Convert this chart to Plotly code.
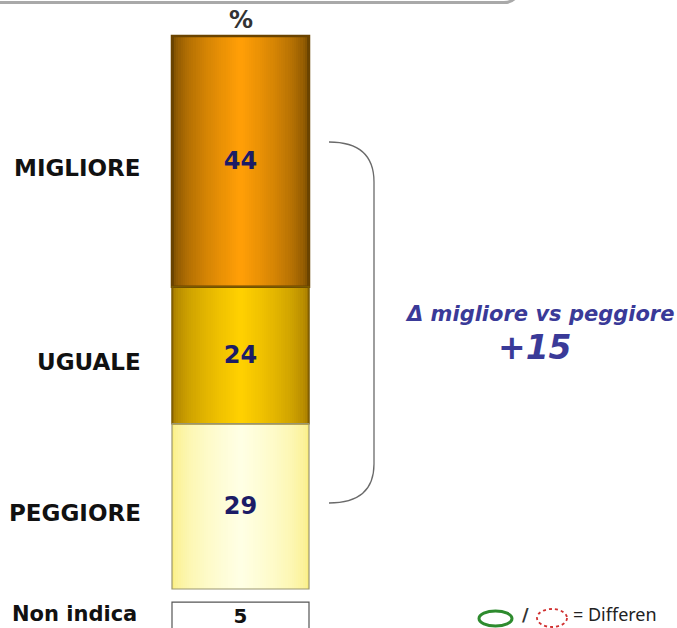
import plotly.graph_objects as go

# ---------------- data ----------------
categories = ["MIGLIORE", "UGUALE", "PEGGIORE"]
values = [44, 24, 29]
non_indica_label = "Non indica"
non_indica_value = 5
delta_label = "\u0394 migliore vs peggiore"
delta_value = values[0] - values[2]   # +15
unit_label = "%"
legend_text = "= Differen"

# ---------------- geometry ----------------
W, H = 677, 628
BAR_X, BAR_W = 240.5, 137
PX_BOTTOM, PX_TOP = 589, 36
TOTAL = sum(values)
SCALE = (PX_BOTTOM - PX_TOP) / TOTAL
Y_TOP = PX_BOTTOM / SCALE
Y_BOT = -(H - PX_BOTTOM) / SCALE
NI_GAP = 2.3

# bases (stack from bottom: PEGGIORE, UGUALE, MIGLIORE)
bases = []
acc = 0
for v in reversed(values):
    bases.append(acc)
    acc += v
bases = list(reversed(bases))

edge_cols = [(108, 68, 0), (158, 116, 0), (250, 238, 128)]
mid_cols = [(255, 158, 6), (255, 208, 0), (255, 255, 228)]
outline_cols = ["#6a4300", "#7a5a00", "#9a9670"]
outline_w = [2.5, 1.5, 1.2]


def mix(a, b, t):
    return "rgb(%d,%d,%d)" % tuple(round(a[i] + (b[i] - a[i]) * t) for i in range(3))


fig = go.Figure()
N = 32
for k in range(N):
    t = (k / (N - 1)) ** 0.5
    fig.add_trace(go.Bar(
        x=[BAR_X] * len(values), y=values, base=bases,
        width=BAR_W * (1 - k / N),
        marker=dict(color=[mix(edge_cols[i], mid_cols[i], t) for i in range(len(values))],
                    line=dict(width=0)),
        hoverinfo="skip", showlegend=False,
    ))

# outline + value labels
fig.add_trace(go.Bar(
    x=[BAR_X] * len(values), y=values, base=bases, width=BAR_W,
    marker=dict(color="rgba(0,0,0,0)", line=dict(color=outline_cols, width=outline_w)),
    text=[str(v) for v in values], texttemplate="<b>%{text}</b>",
    textposition="inside", insidetextanchor="middle",
    textangle=0, textfont=dict(family="DejaVu Sans", size=24, color="#1c1c66"),
    hoverinfo="skip", showlegend=False,
))

# Non indica box
fig.add_trace(go.Bar(
    x=[BAR_X], y=[non_indica_value], base=[-NI_GAP - non_indica_value], width=BAR_W,
    marker=dict(color="white", line=dict(color="#555555", width=1.2)),
    text=[str(non_indica_value)], texttemplate="<b>%{text}</b>",
    textposition="inside", insidetextanchor="middle",
    textangle=0, textfont=dict(family="DejaVu Sans", size=23, color="#111111"),
    hoverinfo="skip", showlegend=False,
))

# category labels
for c, v, b in zip(categories, values, bases):
    fig.add_annotation(x=143, y=b + v / 2 - 1.1, xref="x", yref="y", text="<b>%s</b>" % c,
                       showarrow=False, xanchor="right", yanchor="middle",
                       font=dict(family="DejaVu Sans", size=23, color="#111111"))
fig.add_annotation(x=139, y=-NI_GAP - non_indica_value / 2 + 0.5, xref="x", yref="y",
                   text="<b>%s</b>" % non_indica_label, showarrow=False,
                   xanchor="right", yanchor="middle",
                   font=dict(family="DejaVu Sans", size=21, color="#111111"))

# unit label
fig.add_annotation(x=BAR_X, y=20, xref="x2", yref="y2", text="<b>%s</b>" % unit_label,
                   showarrow=False, font=dict(family="DejaVu Sans", size=24, color="#333333"))

# delta text
fig.add_annotation(x=539, y=314, xref="x2", yref="y2", text="<b><i>%s</i></b>" % delta_label,
                   showarrow=False, font=dict(family="DejaVu Sans", size=21, color="#3a3a98"))
fig.add_annotation(x=535, y=347, xref="x2", yref="y2", text="<b><i>%+d</i></b>" % delta_value,
                   showarrow=False, font=dict(family="DejaVu Sans", size=33, color="#3a3a98"))

# brace
fig.add_shape(type="path", xref="x2", yref="y2",
              path="M 329,142 Q 374,142 374,182 L 374,464 Q 374,503 329,503",
              line=dict(color="#6a6a6a", width=1.3))

# top frame line
fig.add_shape(type="path", xref="x2", yref="y2",
              path="M 0,2.5 L 504,2.5 Q 512,2.5 516,-3",
              line=dict(color="#a9a9a9", width=3))

# legend symbols
fig.add_shape(type="circle", xref="x2", yref="y2", x0=479, x1=512, y0=611, y1=626,
              line=dict(color="#2e8b2e", width=3))
fig.add_shape(type="circle", xref="x2", yref="y2", x0=537, x1=567, y0=609, y1=627,
              line=dict(color="#d03030", width=1.8, dash="dot"))
fig.add_annotation(x=525, y=614, xref="x2", yref="y2", text="<b>/</b>", showarrow=False,
                   borderpad=0, font=dict(family="DejaVu Sans", size=18, color="#333333"))
fig.add_annotation(x=572, y=614, xref="x2", yref="y2", text=legend_text, showarrow=False,
                   xanchor="left", borderpad=0,
                   font=dict(family="Noto Sans", size=18, color="#222222"))

fig.update_layout(
    width=W, height=H, margin=dict(l=0, r=0, t=0, b=0),
    paper_bgcolor="white", plot_bgcolor="white",
    barmode="overlay", bargap=0,
    xaxis=dict(range=[0, W], visible=False, fixedrange=True),
    yaxis=dict(range=[Y_BOT, Y_TOP], visible=False, fixedrange=True),
    xaxis2=dict(range=[0, W], visible=False, overlaying="x", fixedrange=True),
    yaxis2=dict(range=[H, 0], visible=False, overlaying="y", fixedrange=True),
    showlegend=False,
)
# dummy trace to activate secondary axes
fig.add_trace(go.Scatter(x=[0], y=[0], xaxis="x2", yaxis="y2", mode="markers",
                         marker=dict(opacity=0), hoverinfo="skip", showlegend=False))

fig.write_html(
    "out.html",
    config={"staticPlot": True},
    post_script="document.body.style.margin='0';document.body.style.padding='0';"
                "document.documentElement.style.overflow='hidden';",
)
